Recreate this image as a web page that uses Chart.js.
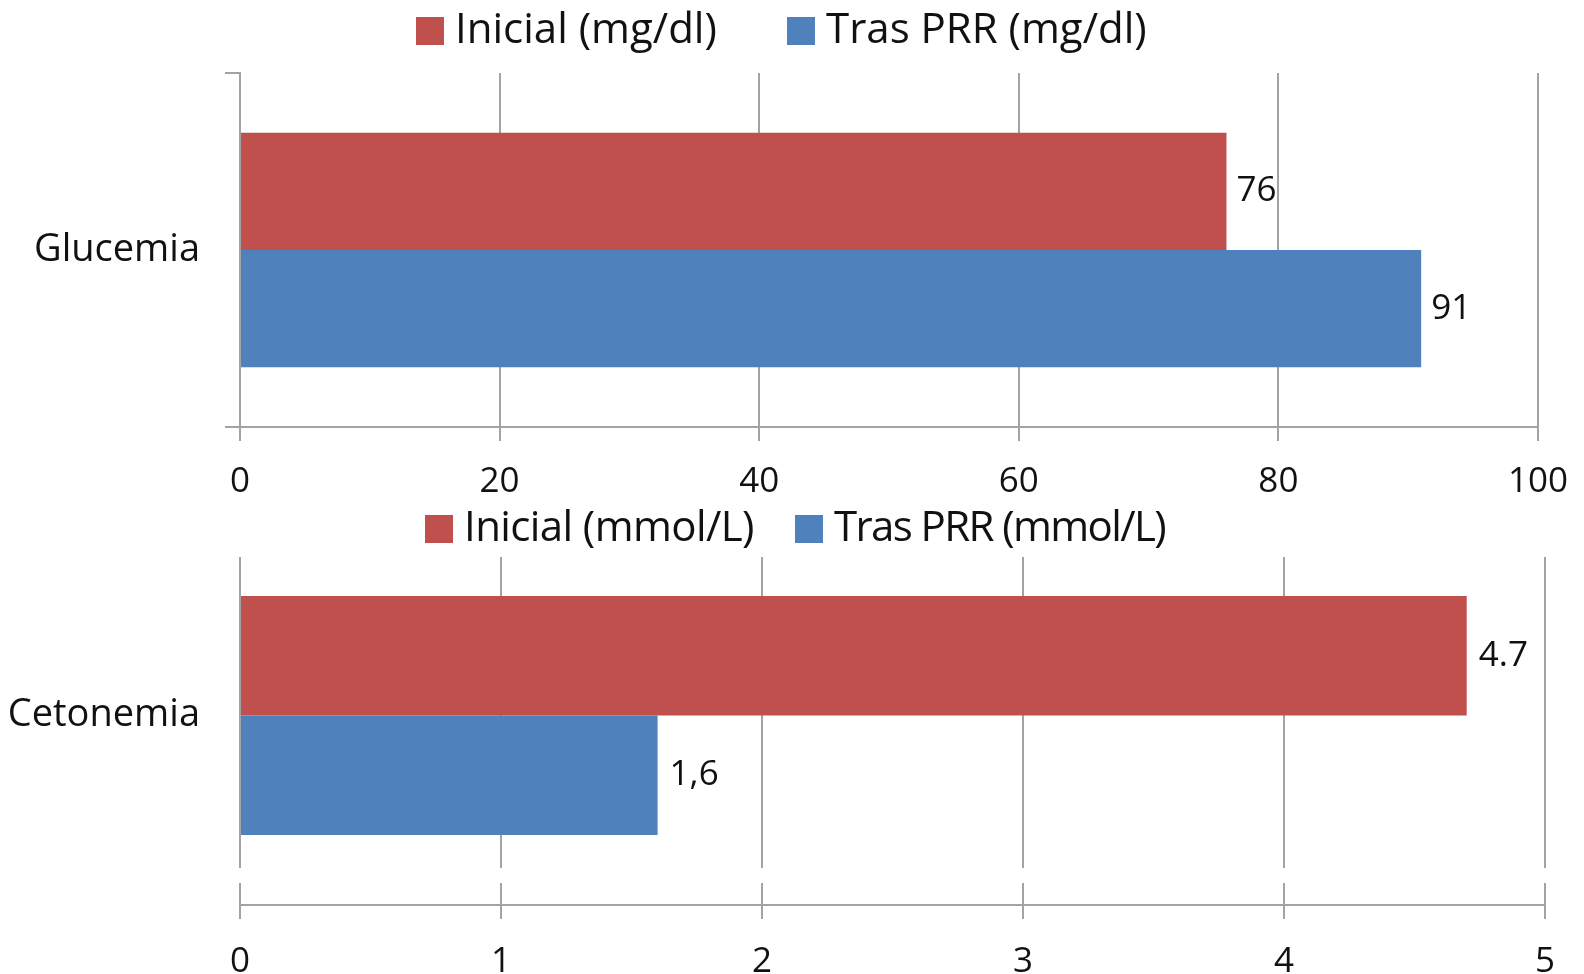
<!DOCTYPE html>
<html lang="es">
<head>
<meta charset="utf-8">
<title>Glucemia y cetonemia</title>
<script src="https://cdn.jsdelivr.net/npm/chart.js@4/dist/chart.umd.min.js"></script>
<style>
  html, body { margin: 0; padding: 0; background: #fff; width: 1584px; height: 974px; overflow: hidden; }
  body { position: relative; font-family: 'Open Sans', 'Noto Sans', sans-serif; }
  canvas { position: absolute; left: 0; }
  #cGluc { top: 0; }
  #cCet { top: 500px; }
  .legend-item { position: absolute; display: flex; align-items: center; height: 42px;
    font-size: 42px; line-height: 42px; color: #111; white-space: nowrap; z-index: 2; }
  .swatch { width: 28px; height: 28px; margin-right: 11px; position: relative; top: 4px; }
</style>
</head>
<body>
<canvas id="cGluc" width="1588" height="523"></canvas>
<canvas id="cCet" width="1584" height="505"></canvas>
<div id="legGluc"></div>
<div id="legCet"></div>
<script>
// ---- data ----
const glucCategories = ['Glucemia'];
const glucInicial = [76];
const glucTras = [91];
const glucInicialText = ['76'];
const glucTrasText = ['91'];
const glucSeriesNames = ['Inicial (mg/dl)', 'Tras PRR (mg/dl)'];
const glucAxis = { min: 0, max: 100, step: 20 };

const cetCategories = ['Cetonemia'];
const cetInicial = [4.7];
const cetTras = [1.6];
const cetInicialText = ['4.7'];
const cetTrasText = ['1,6'];
const cetSeriesNames = ['Inicial (mmol/L)', 'Tras PRR (mmol/L)'];
const cetAxis = { min: 0, max: 5, step: 1 };

// ---- style ----
const RED = '#C0504D';
const BLUE = '#4F81BD';
const GRID = '#a3a3a3';
const TEXT = '#111111';
const FONT = "'Open Sans', 'Noto Sans', sans-serif";

// value text drawn just past the end of each bar
const valueLabels = {
  id: 'valueLabels',
  afterDatasetsDraw(chart, args, opts) {
    const ctx = chart.ctx;
    ctx.save();
    ctx.font = `${opts.size}px ${FONT}`;
    ctx.fillStyle = TEXT;
    ctx.textAlign = 'left';
    ctx.textBaseline = 'middle';
    chart.data.datasets.forEach((ds, i) => {
      const meta = chart.getDatasetMeta(i);
      meta.data.forEach((bar, j) => {
        const txt = ds.valueText ? ds.valueText[j] : String(ds.data[j]);
        ctx.fillText(txt, bar.x + opts.gap, bar.y);
      });
    });
    ctx.restore();
  }
};

// HTML legend built from the chart's datasets
function buildLegend(el, chart, top, lefts, spacing) {
  chart.data.datasets.forEach((ds, i) => {
    const item = document.createElement('div');
    item.className = 'legend-item';
    item.style.top = top + 'px';
    item.style.left = lefts[i] + 'px';
    if (spacing) item.style.letterSpacing = spacing[i] + 'px';
    const sw = document.createElement('span');
    sw.className = 'swatch';
    sw.style.background = ds.backgroundColor;
    item.appendChild(sw);
    item.appendChild(document.createTextNode(ds.label));
    el.appendChild(item);
  });
}

const tickFont = { family: FONT, size: 35 };
const catFont = { family: FONT, size: 38 };

// ---- Glucemia ----
const glucChart = new Chart(document.getElementById('cGluc'), {
  type: 'bar',
  data: {
    labels: glucCategories,
    datasets: [
      { label: glucSeriesNames[0], data: glucInicial, valueText: glucInicialText, backgroundColor: RED },
      { label: glucSeriesNames[1], data: glucTras, valueText: glucTrasText, backgroundColor: BLUE }
    ]
  },
  options: {
    indexAxis: 'y',
    responsive: false,
    animation: false,
    devicePixelRatio: 1,
    categoryPercentage: 0.663,
    barPercentage: 1,
    layout: { padding: { top: 73, right: 47, left: 0, bottom: 0 } },
    plugins: {
      legend: { display: false },
      tooltip: { enabled: false },
      valueLabels: { size: 35, gap: 10 }
    },
    scales: {
      x: {
        type: 'linear', min: glucAxis.min, max: glucAxis.max,
        ticks: { stepSize: glucAxis.step, font: tickFont, color: TEXT, padding: 20 },
        grid: { color: GRID, lineWidth: 2, tickLength: 14 },
        border: { display: true, color: GRID, width: 2 }
      },
      y: {
        ticks: { font: catFont, color: TEXT, padding: 25 },
        grid: { offset: true, drawOnChartArea: false, tickLength: 15, color: GRID, lineWidth: 2 },
        border: { display: true, color: GRID, width: 2 },
        afterFit: s => { s.width = 240; }
      }
    }
  },
  plugins: [valueLabels]
});

// ---- Cetonemia ----
const cetChart = new Chart(document.getElementById('cCet'), {
  type: 'bar',
  data: {
    labels: cetCategories,
    datasets: [
      { label: cetSeriesNames[0], data: cetInicial, valueText: cetInicialText, backgroundColor: RED },
      { label: cetSeriesNames[1], data: cetTras, valueText: cetTrasText, backgroundColor: BLUE }
    ]
  },
  options: {
    indexAxis: 'y',
    responsive: false,
    animation: false,
    devicePixelRatio: 1,
    categoryPercentage: 0.783,
    barPercentage: 1,
    layout: { padding: { top: 57, right: 39, left: 0, bottom: 0 } },
    plugins: {
      legend: { display: false },
      tooltip: { enabled: false },
      valueLabels: { size: 35, gap: 12 }
    },
    scales: {
      // short upward continuation of the gridlines above the plot
      xTop: {
        type: 'linear', position: 'top', min: cetAxis.min, max: cetAxis.max,
        ticks: { stepSize: cetAxis.step, display: false },
        grid: { drawOnChartArea: false, color: GRID, lineWidth: 2, tickLength: 6 },
        border: { display: false }
      },
      // gridlines across the plot, ending short of the axis
      x: {
        type: 'linear', min: cetAxis.min, max: cetAxis.max, weight: 0,
        ticks: { stepSize: cetAxis.step, display: false },
        grid: { color: GRID, lineWidth: 2, tickLength: 15, tickColor: 'rgba(0,0,0,0)' },
        border: { display: false }
      },
      // upper half of the tick marks
      x2: {
        type: 'linear', position: 'bottom', min: cetAxis.min, max: cetAxis.max, weight: 1,
        ticks: { stepSize: cetAxis.step, display: false },
        grid: { drawOnChartArea: false, color: GRID, lineWidth: 2, tickLength: 22 },
        border: { display: false }
      },
      // axis line, lower tick marks and labels
      x3: {
        type: 'linear', position: 'bottom', min: cetAxis.min, max: cetAxis.max, weight: 2,
        ticks: { stepSize: cetAxis.step, font: tickFont, color: TEXT, padding: 22 },
        grid: { drawOnChartArea: false, color: GRID, lineWidth: 2, tickLength: 14 },
        border: { display: true, color: GRID, width: 2 }
      },
      y: {
        ticks: { font: catFont, color: TEXT, padding: 40 },
        grid: { display: false, drawTicks: false },
        border: { display: false },
        afterFit: s => { s.width = 240; }
      }
    }
  },
  plugins: [valueLabels]
});

buildLegend(document.getElementById('legGluc'), glucChart, 6, [416, 787]);
buildLegend(document.getElementById('legCet'), cetChart, 504, [425, 795], [-0.6, -1.6]);
</script>
</body>
</html>
